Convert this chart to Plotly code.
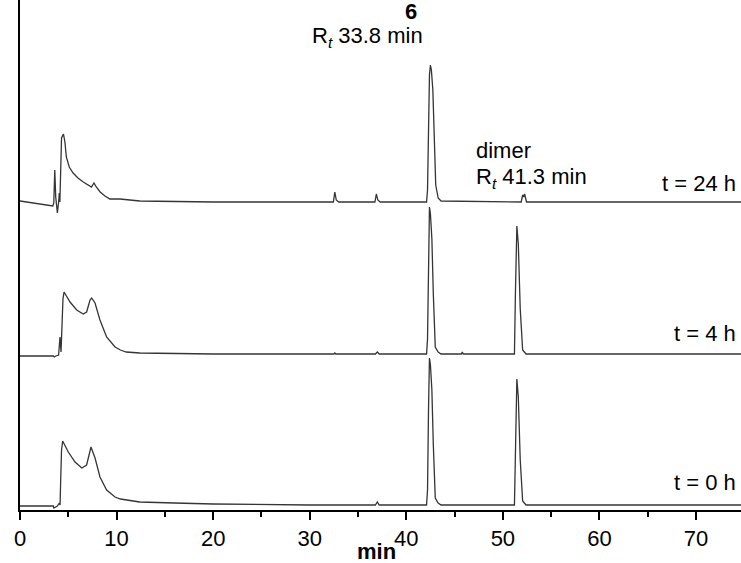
import plotly.graph_objects as go

# ---- data (time in min, detector response in arbitrary units above each trace baseline) ----
t24_time = [0, 3.4, 3.5, 3.6, 3.7, 3.87, 4.0, 4.07, 4.13, 4.22, 4.3, 4.5, 4.65, 4.8, 5.1, 5.5, 6.0, 6.55,
            7.4, 7.66, 7.9, 8.3, 8.8, 9.3, 10.35, 12.4, 20, 30, 32.45, 32.6, 32.75, 33.0, 36.75, 36.9,
            37.05, 37.3, 42.1, 42.2, 42.3, 42.4, 42.5, 42.6, 42.75, 42.9, 43.05, 43.3, 43.6,
            51.9, 52.05, 52.15, 52.25, 52.45, 60, 74.7]
t24_signal = [1, -4, -1, 32, 5, -11, 0, 9, 0, 40, 64, 68, 60, 45, 35, 29, 24, 20,
              15, 19, 15, 10, 6, 3, 3, 1, 0, 0, 0, 10, 2, 0, 0, 8,
              2, 0, 0, 12, 82, 127, 137, 132, 112, 62, 17, 4, 1,
              0, 7, 5, 8, 0, 0, 0]

t4_time = [0, 3.45, 3.55, 3.7, 4.0, 4.14, 4.25, 4.38, 4.45, 4.56, 5.18, 5.87, 6.55, 6.9, 7.25,
           7.42, 7.77, 8.28, 8.97, 9.84, 10.4, 11.0, 12.4, 20, 32.5, 32.6, 32.7, 36.8, 37.0, 37.2,
           42.1, 42.2, 42.3, 42.4, 42.5, 42.65, 42.8, 43.0, 43.3, 43.6, 45.7, 45.8, 45.9,
           51.2, 51.3, 51.45, 51.6, 51.8, 52.05, 52.4, 74.7]
t4_signal = [-2, -2, -3, -2, -1, 17, 2, 30, 55, 62, 52, 44, 40, 42, 54,
             56, 51, 34, 17, 7, 4, 2, 1, 0, 0, 1, 0, 0, 2, 0,
             0, 15, 95, 147, 140, 115, 60, 7, 2, 0, 0, 2, 0,
             0, 60, 128, 110, 45, 4, 0, 0]

t0_time = [0, 3.45, 3.5, 3.87, 4.07, 4.15, 4.2, 4.3, 4.42, 5.0, 5.7, 6.4, 6.9, 7.18, 7.35,
           7.77, 8.28, 8.97, 9.84, 10.4, 11.0, 12.4, 16, 20, 30, 36.8, 37.0, 37.2,
           42.1, 42.2, 42.3, 42.4, 42.5, 42.65, 42.8, 43.0, 43.3, 43.6,
           51.2, 51.3, 51.45, 51.6, 51.8, 52.05, 52.4, 74.7]
t0_signal = [-1, -1, -3, -1, 2, 0, 20, 55, 64, 53, 43, 37, 40, 52, 58,
             47, 28, 15, 8, 6, 5, 3, 2, 1, 0, 0, 3, 0,
             0, 15, 95, 147, 140, 115, 60, 7, 2, 0,
             0, 60, 126, 108, 45, 4, 0, 0]

trace_labels = ["t = 24 h", "t = 4 h", "t = 0 h"]
trace_offsets = [308, 156, 5]   # vertical stacking offsets

x_ticks = [0, 10, 20, 30, 40, 50, 60, 70]

series = [(t24_time, t24_signal), (t4_time, t4_signal), (t0_time, t0_signal)]

fig = go.Figure()
for (tx, sy), off in zip(series, trace_offsets):
    fig.add_trace(go.Scatter(x=tx, y=[v + off for v in sy], mode="lines",
                             line=dict(color="#353535", width=1.3), showlegend=False,
                             hoverinfo="skip"))

FONT = "Liberation Sans, Arial, sans-serif"

ann = []
for lab, yy in zip(trace_labels, [327, 177, 28]):
    ann.append(dict(x=74.4, y=yy, xref="x", yref="y", text=lab, showarrow=False,
                    xanchor="right", yanchor="middle", font=dict(size=22, color="black")))
ann.append(dict(x=40.5, y=499, xref="x", yref="y", text="<b>6</b>", showarrow=False,
                xanchor="center", yanchor="middle", font=dict(size=22, color="black")))
ann.append(dict(x=41.95, y=473, xref="x", yref="y", text="R<sub><i>t</i></sub> 33.8 min",
                showarrow=False, xanchor="right", yanchor="middle",
                font=dict(size=22, color="black")))
ann.append(dict(x=47.0, y=360, xref="x", yref="y", text="dimer", showarrow=False,
                xanchor="left", yanchor="middle", font=dict(size=22, color="black")))
ann.append(dict(x=47.0, y=332, xref="x", yref="y", text="R<sub><i>t</i></sub> 41.3 min",
                showarrow=False, xanchor="left", yanchor="middle",
                font=dict(size=22, color="black")))
ann.append(dict(x=0.494, y=-0.082, xref="paper", yref="paper", text="<b>min</b>",
                showarrow=False, xanchor="center", yanchor="middle",
                font=dict(size=22, color="black")))

fig.update_layout(
    width=741, height=563,
    margin=dict(l=20, r=0, t=0, b=53),
    paper_bgcolor="white", plot_bgcolor="white",
    font=dict(family=FONT, size=22, color="black"),
    annotations=ann,
    xaxis=dict(range=[0, 74.66], tickvals=x_ticks, ticktext=[str(v) for v in x_ticks],
               showline=True, linecolor="black", linewidth=2, ticks="outside",
               ticklen=8, tickwidth=1.5, tickcolor="black", showgrid=False, zeroline=False,
               tickfont=dict(size=22, color="black"),
               minor=dict(dtick=5, tick0=0, ticks="outside", ticklen=5, tickwidth=1.5,
                          tickcolor="black", showgrid=False)),
    yaxis=dict(range=[0, 510], showline=True, linecolor="black", linewidth=2,
               ticks="", showticklabels=False, showgrid=False, zeroline=False),
)

fig.write_html("out.html", config={"displayModeBar": False},
               post_script="document.body.style.margin='0';document.body.style.overflow='hidden';")
